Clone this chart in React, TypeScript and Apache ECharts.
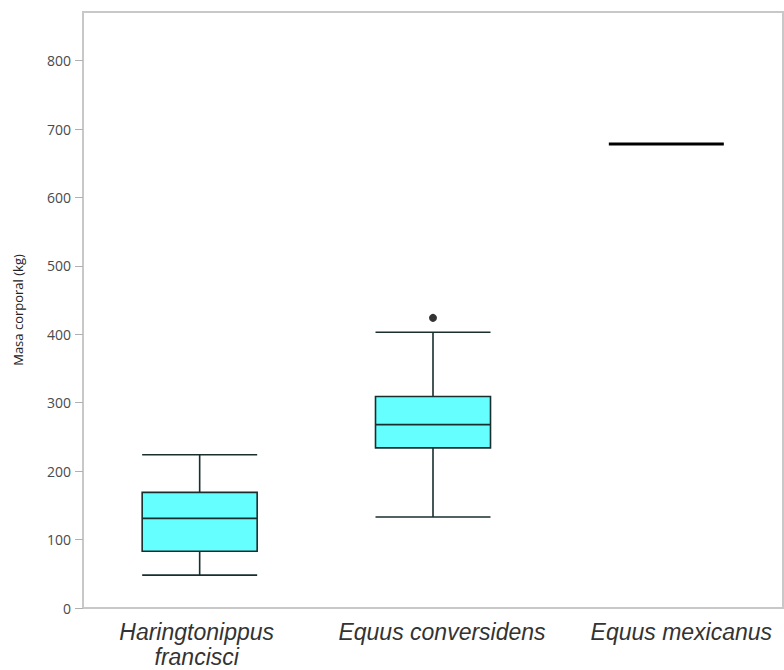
import React, { useEffect, useRef } from "react";
import * as echarts from "echarts";

const categories = ["Haringtonippus\nfrancisci", "Equus conversidens", "Equus mexicanus"];
// [min, Q1, median, Q3, max]
const boxValues = [
  [48, 83, 131, 169, 224],
  [133, 234, 268, 309, 403],
  [678, 678, 678, 678, 678],
];
const outliers = [[1, 424]];
const yTicks = [0, 100, 200, 300, 400, 500, 600, 700, 800];
const labelStyleKeys = ["a", "b", "c"];

export default function App() {
  const ref = useRef<HTMLDivElement>(null);
  useEffect(() => {
    const chart = echarts.init(ref.current!, null, { renderer: "svg" });
    const base = {
      fontFamily: "Liberation Sans",
      fontStyle: "italic",
      fontSize: 23,
      color: "#333333",
      lineHeight: 25,
    };
    chart.setOption({
      animation: false,
      grid: {
        left: 83,
        top: 12,
        right: 1,
        bottom: 62,
        show: true,
        borderColor: "#c8c8c8",
        borderWidth: 2,
        backgroundColor: "#ffffff",
      },
      xAxis: {
        type: "category",
        data: categories,
        axisLine: { show: false },
        axisTick: { show: false },
        splitLine: { show: false },
        axisLabel: {
          interval: 0,
          ...base,
          margin: 11,
          formatter: (v: string, i: number) =>
            v
              .split("\n")
              .map((s) => `{${labelStyleKeys[i]}|${s}}`)
              .join("\n"),
          rich: {
            a: { ...base, padding: [0, 6, 0, 0] },
            b: { ...base, padding: [0, 0, 0, 18] },
            c: { ...base, padding: [0, 0, 0, 30] },
          },
        },
      },
      yAxis: {
        type: "value",
        min: 0,
        max: 871,
        interval: 100,
        name: "Masa corporal (kg)",
        nameLocation: "middle",
        nameGap: 59,
        nameTextStyle: { fontFamily: "Open Sans", fontSize: 13, color: "#222222" },
        axisLine: { show: false },
        axisTick: {
          show: true,
          length: 8,
          lineStyle: { color: "#b0b0b0", width: 1 },
          customValues: yTicks,
        },
        splitLine: { show: false },
        axisLabel: {
          fontFamily: "Open Sans",
          fontSize: 14,
          color: "#4a4a4a",
          margin: 12,
          customValues: yTicks,
        },
      },
      series: [
        {
          type: "boxplot",
          data: boxValues.map((v, i) =>
            i === 2
              ? { value: v, itemStyle: { borderColor: "#000000", borderWidth: 3 } }
              : { value: v }
          ),
          boxWidth: [115, 115],
          itemStyle: {
            color: "#66ffff",
            borderColor: "#1a2e2e",
            borderWidth: 1.6,
          },
        },
        {
          type: "scatter",
          data: outliers,
          symbol: "circle",
          symbolSize: 8,
          itemStyle: { color: "#000000" },
        },
      ],
    });
    return () => chart.dispose();
  }, []);
  return (
    <div
      ref={ref}
      style={{ width: 784, height: 670, position: "absolute", left: 0, top: 0 }}
    />
  );
}
